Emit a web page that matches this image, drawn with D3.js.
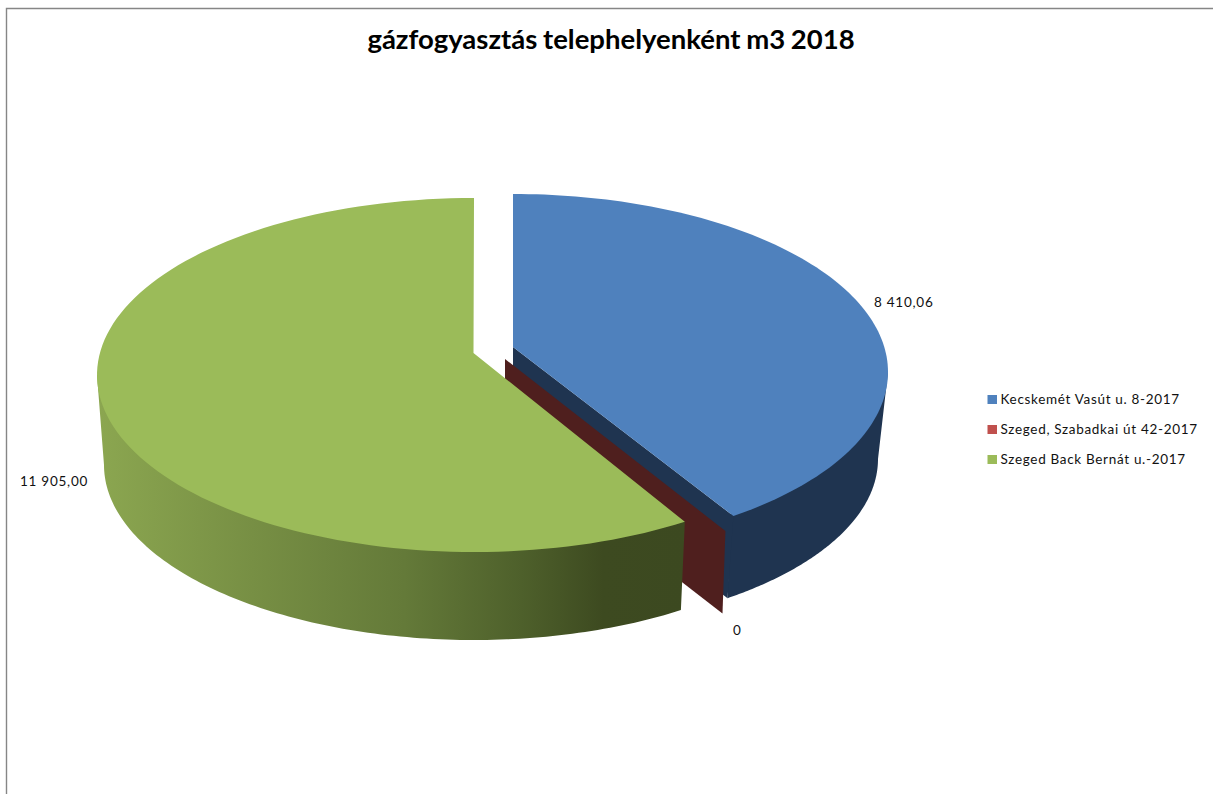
<!DOCTYPE html>
<html><head><meta charset="utf-8">
<script src="https://cdn.jsdelivr.net/npm/d3@7/dist/d3.min.js"></script>
<style>html,body{margin:0;padding:0;background:#fff;overflow:hidden}svg{display:block}</style>
</head><body><svg id="c" width="1213" height="794"></svg>
<script>
const titleText = "gázfogyasztás telephelyenként m3 2018";
const categories = ["Kecskemét Vasút u. 8-2017", "Szeged, Szabadkai út 42-2017", "Szeged Back Bernát u.-2017"];
const values = [8410.06, 0, 11905.00];
const topColors = ["#4f81bd", "#c0504d", "#9bbb59"];
const sideColors = ["#1f3450", "#4f1f1e", "url(#greenSide)"];

const W = 1213, H = 794, deg = Math.PI / 180;
const svg = d3.select("#c");
const font = "Lato, 'Open Sans', sans-serif";

// per-slice projection of the exploded, tilted pie
const geom = [
  {cx:513,cy:372,rx:375,ry:178, ax:513,ay:347, bx:513,by:459,brx:365,bry:172, bax:513,bay:431, sweep:[0,144], sideFrom:90},
  {cx:505,cy:387,rx:375,ry:178, ax:505,ay:359, bx:505,by:472,brx:370,bry:175, bax:505,bay:445, sweep:[144,144]},
  {cx:474,cy:375,rx:377,ry:177, ax:473.5,ay:353, bx:474,by:465,brx:370,bry:175, bax:474,bay:440, sweep:[146,360], sideTo:270}
];

const pie = d3.pie().sort(null).value(d => d)(values);
const angleOf = pie.map((p, i) => d3.scaleLinear().domain([p.startAngle, p.endAngle === p.startAngle ? p.startAngle + 1 : p.endAngle]).range(geom[i].sweep));
const topPt = (g, a, k = 1) => [g.cx + k * g.rx * Math.sin(a * deg), g.cy - k * g.ry * Math.cos(a * deg)];
const botPt = (g, a) => [g.bx + g.brx * Math.sin(a * deg), g.by - g.bry * Math.cos(a * deg)];
const line = d3.line();
const samples = (a0, a1) => d3.range(0, 121).map(k => a0 + (a1 - a0) * k / 120);

const defs = svg.append("defs");
const grad = defs.append("linearGradient").attr("id", "greenSide").attr("gradientUnits", "userSpaceOnUse")
  .attr("x1", 100).attr("x2", 685).attr("y1", 0).attr("y2", 0);
[[0, "#8ba650"], [0.26, "#778f44"], [0.52, "#647a39"], [0.72, "#4e602b"], [0.86, "#3d4a20"], [1, "#3c4920"]].forEach(s =>
  grad.append("stop").attr("offset", s[0]).attr("stop-color", s[1]));

// chart frame
svg.append("path").attr("d", `M6.5 ${H}V8.5H${W}`).attr("fill", "none").attr("stroke", "#868686").attr("stroke-width", 1.4);

// title
svg.append("text").attr("x", 611).attr("y", 49).attr("text-anchor", "middle").attr("word-spacing", -1)
  .attr("font-family", font).attr("font-weight", 700).attr("font-size", 27.5).attr("fill", "#000").text(titleText);

const [blue, red, green] = [0, 1, 2];
const aEnd = i => angleOf[i](pie[i].endAngle);
const aStart = i => angleOf[i](pie[i].startAngle);
const g = svg.append("g");

// blue inner wall and outer side, one outline so no seam shows
{
  const s = geom[blue], e = aEnd(blue);
  const arcT = samples(s.sideFrom, e).map(a => topPt(s, a, 0.985));
  const arcB = samples(e, s.sideFrom).map(a => botPt(s, a));
  g.append("path").attr("fill", sideColors[blue]).attr("d",
    line([topPt(s, s.sideFrom)].concat(arcT, arcB)) + "Z");
  g.append("path").attr("fill", sideColors[blue]).attr("d",
    line([[s.ax, s.ay], topPt(s, e), botPt(s, e), [s.bax, s.bay]]) + "Z");
}
// zero-value slice: only its wall is visible
{
  const s = geom[red], a = aStart(red);
  g.append("path").attr("fill", sideColors[red]).attr("d", line([[s.ax, s.ay], topPt(s, a), botPt(s, a), [s.bax, s.bay]]) + "Z");
}
// green side
{
  const s = geom[green], a0 = aStart(green);
  const arcT = samples(a0, s.sideTo).map(a => topPt(s, a, 0.985));
  const arcB = samples(s.sideTo, a0).map(a => botPt(s, a));
  g.append("path").attr("fill", sideColors[green]).attr("d",
    line([topPt(s, a0)].concat(arcT, [topPt(s, s.sideTo)], arcB)) + "Z");
}
// top faces
[green, blue].forEach(i => {
  const s = geom[i];
  const pts = [[s.ax, s.ay]].concat(samples(aStart(i), aEnd(i)).map(a => topPt(s, a)));
  g.append("path").attr("fill", topColors[i]).attr("d", line(pts) + "Z");
});

// data labels
const fmt = d3.formatLocale({decimal: ",", thousands: "\u00a0", grouping: [3], currency: ["", ""]}).format(",.2f");
const labelPos = [[874, 307], [733, 635], [20, 486]];
svg.append("g").selectAll("text").data(values).join("text")
  .attr("x", (d, i) => labelPos[i][0]).attr("y", (d, i) => labelPos[i][1])
  .attr("font-family", font).attr("font-size", 13.5).attr("letter-spacing", 0.75).attr("fill", "#111")
  .text(d => d === 0 ? "0" : fmt(d));

// legend
const legendY = d3.scalePoint().domain(categories).range([399.5, 459.5]);
const leg = svg.append("g").selectAll("g").data(categories).join("g")
  .attr("transform", d => `translate(987.5,${legendY(d)})`);
leg.append("rect").attr("x", 0).attr("y", -4.5).attr("width", 9.5).attr("height", 9).attr("fill", (d, i) => topColors[i]);
leg.append("text").attr("x", 13).attr("y", 4.5).attr("font-family", font).attr("font-size", 13.5)
  .attr("letter-spacing", 0.68).attr("fill", "#111").text(d => d);
</script></body></html>
